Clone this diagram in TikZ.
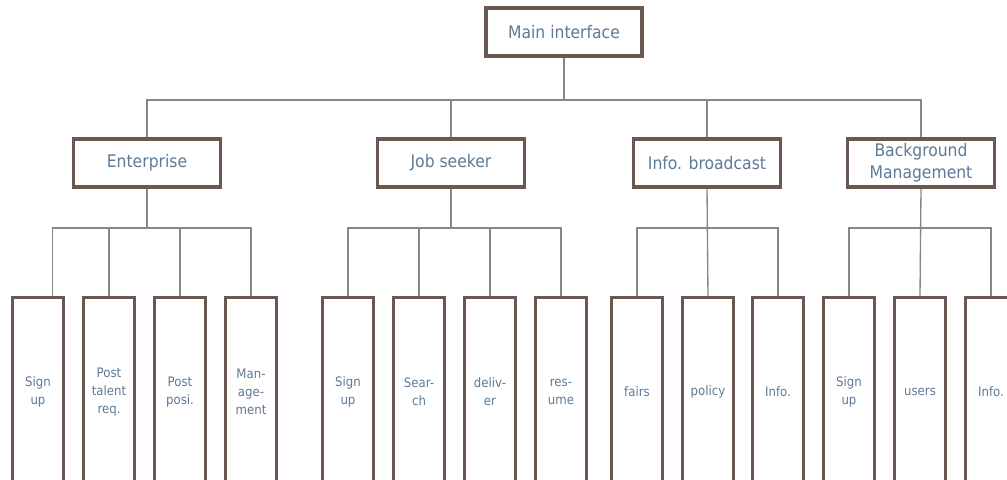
\documentclass[tikz,border=0pt]{standalone}
\usepackage{fontspec}
\setmainfont{DejaVu Sans Condensed}
\definecolor{boxline}{RGB}{107,88,80}
\definecolor{boxtext}{RGB}{95,122,150}
\definecolor{linkgray}{RGB}{135,135,135}
\begin{document}
\begin{tikzpicture}[x=0.75pt,y=-0.75pt,
  box/.style={draw=boxline,line width=2.3pt,fill=white,text=boxtext,align=center,inner sep=1pt},
  topbox/.style={box,minimum width=110pt,minimum height=36pt,font=\fontsize{13}{16.5}\selectfont},
  mainbox/.style={box,minimum width=117pt,minimum height=36pt,font=\fontsize{13}{16.5}\selectfont},
  leafbox/.style={box,minimum width=38pt,minimum height=142pt,font=\fontsize{9.8}{13.5}\selectfont},
  link/.style={draw=linkgray,line width=1pt}]

\useasboundingbox[fill=white] (0,0) rectangle (1007,479);

\coordinate (bus) at (0,100);
\coordinate (sub) at (0,228);

% first and second level
\node[mainbox] (main) at (564,32) {Main interface};
\node[topbox] (ent) at (147,163) {Enterprise};
\node[topbox] (job) at (451,163) {Job seeker};
\node[topbox] (info) at (707,163) {Info. broadcast};
\node[topbox] (bg) at (921,163) {Background\\Management};

% leaves
\node[leafbox] (ent1) at (38,392) {Sign\\up};
\node[leafbox] (ent2) at (109,392) {Post\\talent\\req.};
\node[leafbox] (ent3) at (180,392) {Post\\posi.};
\node[leafbox] (ent4) at (251,392) {Man-\\age-\\ment};

\node[leafbox] (job1) at (348,392) {Sign\\up};
\node[leafbox] (job2) at (419,392) {Sear-\\ch};
\node[leafbox] (job3) at (490,392) {deliv-\\er};
\node[leafbox] (job4) at (561,392) {res-\\ume};

\node[leafbox] (info1) at (637,392) {fairs};
\node[leafbox] (info2) at (708,392) {policy};
\node[leafbox] (info3) at (778,392) {Info.};

\node[leafbox] (bg1) at (849,392) {Sign\\up};
\node[leafbox] (bg2) at (920,392) {users};
\node[leafbox] (bg3) at (991,392) {Info.};

% connectors, top
\draw[link] (main.south) -- (main.south |- bus);
\draw[link] (ent.north) -- (ent.north |- bus) -- (bg.north |- bus) -- (bg.north);
\draw[link] (job.north) -- (job.north |- bus);
\draw[link] (info.north) -- (info.north |- bus);

% connectors, leaves
\coordinate (e1) at ([xshift=11pt]ent1.north);
\draw[link] (ent.south) -- (ent.south |- sub);
\draw[link] (e1) -- (e1 |- sub) -- (ent4.north |- sub) -- (ent4.north);
\draw[link] (ent2.north) -- (ent2.north |- sub);
\draw[link] (ent3.north) -- (ent3.north |- sub);

\draw[link] (job.south) -- (job.south |- sub);
\draw[link] (job1.north) -- (job1.north |- sub) -- (job4.north |- sub) -- (job4.north);
\draw[link] (job2.north) -- (job2.north |- sub);
\draw[link] (job3.north) -- (job3.north |- sub);

\draw[link] (info.south) -- (info2.north);
\draw[link] (info1.north) -- (info1.north |- sub) -- (info3.north |- sub) -- (info3.north);

\draw[link] (bg.south) -- (bg2.north);
\draw[link] (bg1.north) -- (bg1.north |- sub) -- (bg3.north |- sub) -- (bg3.north);

\end{tikzpicture}
\end{document}
